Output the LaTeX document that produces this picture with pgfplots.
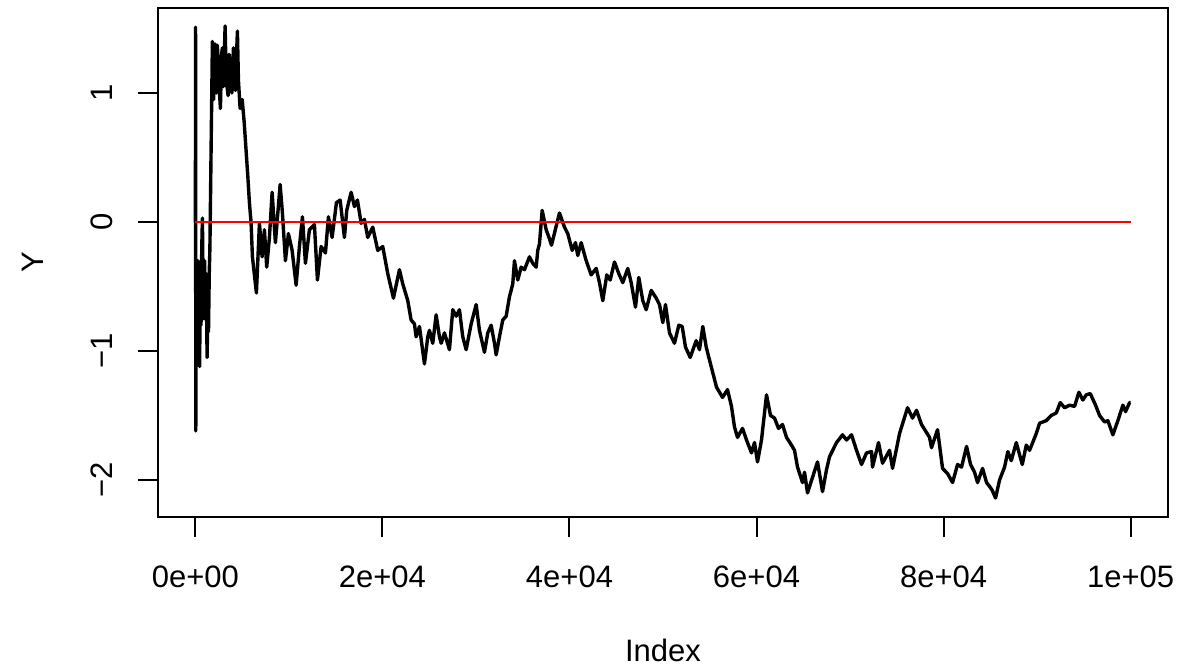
\documentclass[border=0pt]{standalone}
\usepackage{pgfplots}
\pgfplotsset{compat=1.18}
\usepackage{fontspec}
\setmainfont{Liberation Sans}
\begin{document}
\fontsize{15.5bp}{18bp}\selectfont
\begin{tikzpicture}
\path[use as bounding box] (-79bp,-75bp) rectangle (510.5bp,258.5bp);
\begin{axis}[
  at={(0,0)}, anchor=south west,
  scale only axis, width=505bp, height=254.5bp,
  xmin=-4000, xmax=104000, ymin=-2.287, ymax=1.659,
  axis line style={line width=1bp},
  every tick/.style={black, line width=1bp},
  tick align=outside, major tick length=10bp,
  scaled x ticks=false, scaled y ticks=false,
  xtick={0,20000,40000,60000,80000,100000},
  xticklabels={0e+00,2e+04,4e+04,6e+04,8e+04,1e+05},
  ytick={-2,-1,0,1},
  yticklabels={−2,−1,0,1},
  xtick pos=bottom, ytick pos=left,
  /pgf/number format/assume math mode=true,
  xticklabel style={anchor=center, yshift=-20bp},
  yticklabel style={xshift=-18bp, anchor=center, rotate=90},
  xlabel={Index}, ylabel={Y},
  xlabel style={at={(axis description cs:0.5,-0.2613)}, anchor=center},
  ylabel style={at={(axis description cs:-0.1238,0.5)}, anchor=center},
  clip=false,
]
\addplot[black, line width=1.7bp, line join=round] table {
x y
0 0
15 1.51
40 -1.62
100 -0.5
180 -1.0
260 -0.3
340 -0.9
450 -1.12
520 -0.5
600 -0.8
680 -0.2
750 0.03
820 -0.5
900 -0.75
980 -0.3
1060 -0.6
1150 -0.4
1250 -1.05
1330 -0.7
1400 -0.85
1480 -0.4
1550 -0.2
1650 0.4
1818 1.40
1950 0.95
2100 1.38
2250 1.00
2353 1.37
2500 1.10
2674 0.88
2800 1.30
2888 1.35
3000 1.05
3176 1.52
3300 1.10
3497 0.98
3600 1.30
3743 1.19
3900 1.00
4064 1.35
4150 1.15
4278 1.02
4400 1.30
4492 1.48
4600 1.10
4781 0.88
5000 0.95
5209 0.78
5348 0.63
5600 0.36
5775 0.15
5957 -0.01
6096 -0.27
6524 -0.55
6845 -0.01
7134 -0.27
7380 -0.06
7626 -0.35
7914 -0.12
8203 0.23
8556 -0.16
9059 0.29
9305 0.07
9626 -0.30
9946 -0.09
10342 -0.22
10770 -0.49
11123 -0.19
11444 0.04
11765 -0.32
12192 -0.06
12727 -0.02
13048 -0.45
13444 -0.19
13904 -0.24
14224 0.04
14620 -0.12
15080 0.15
15476 0.17
15936 -0.12
16182 0.09
16652 0.23
17005 0.12
17326 0.17
17722 -0.01
18075 0.02
18428 -0.12
18963 -0.04
19497 -0.22
20032 -0.19
20567 -0.40
21176 -0.59
21818 -0.37
22174 -0.48
22709 -0.61
23066 -0.76
23422 -0.79
23600 -0.89
23957 -0.81
24492 -1.10
24848 -0.89
25026 -0.84
25379 -0.94
25743 -0.72
26096 -0.89
26278 -0.94
26631 -0.86
27165 -0.99
27518 -0.68
27882 -0.73
28235 -0.68
28588 -0.89
28951 -0.99
29486 -0.79
30021 -0.64
30374 -0.84
30909 -1.01
31262 -0.86
31625 -0.80
31978 -0.94
32160 -1.03
32513 -0.89
32866 -0.76
33230 -0.73
33582 -0.58
33935 -0.48
34117 -0.30
34470 -0.45
34833 -0.35
35186 -0.37
35721 -0.27
36074 -0.32
36438 -0.35
36609 -0.22
36791 -0.17
37080 0.09
37507 -0.06
37861 -0.13
38074 -0.18
38930 0.07
39465 -0.04
39818 -0.09
40288 -0.22
40641 -0.16
40887 -0.26
41251 -0.16
41786 -0.30
42321 -0.41
42855 -0.36
43208 -0.47
43561 -0.61
43989 -0.41
44353 -0.45
44812 -0.31
45272 -0.40
45700 -0.47
46235 -0.36
46598 -0.47
47058 -0.66
47411 -0.43
47839 -0.61
48203 -0.68
48737 -0.53
49272 -0.59
49625 -0.64
49978 -0.78
50267 -0.64
50694 -0.86
51229 -0.94
51689 -0.80
52052 -0.81
52406 -0.97
52908 -1.05
53550 -0.92
53903 -0.99
54256 -0.81
54620 -0.97
54973 -1.07
55721 -1.28
56042 -1.32
56363 -1.36
56897 -1.30
57325 -1.43
57646 -1.59
57967 -1.67
58502 -1.60
58930 -1.69
59464 -1.79
59785 -1.71
60106 -1.86
60534 -1.69
61068 -1.34
61496 -1.50
61924 -1.52
62352 -1.60
62780 -1.57
63207 -1.67
63742 -1.73
64063 -1.77
64384 -1.90
64919 -2.02
65133 -1.94
65453 -2.10
65988 -1.98
66523 -1.86
67058 -2.09
67485 -1.92
67806 -1.82
68555 -1.71
69197 -1.65
69625 -1.69
70159 -1.65
70694 -1.77
71229 -1.88
71764 -1.79
72298 -1.78
72405 -1.90
73047 -1.71
73475 -1.87
74223 -1.77
74544 -1.91
75293 -1.64
76148 -1.44
76683 -1.52
77111 -1.46
77646 -1.57
78502 -1.67
78715 -1.75
79357 -1.61
79892 -1.91
80427 -1.95
80962 -2.02
81496 -1.88
81924 -1.90
82459 -1.74
82887 -1.88
83315 -1.94
83635 -2.02
84170 -1.91
84598 -2.02
84918 -2.05
85207 -2.08
85560 -2.14
85988 -2.00
86523 -1.90
86876 -1.78
87239 -1.85
87774 -1.71
88416 -1.88
88844 -1.73
89197 -1.77
89914 -1.64
90266 -1.56
90982 -1.54
91517 -1.50
92052 -1.48
92479 -1.40
92940 -1.44
93474 -1.42
94009 -1.43
94469 -1.32
94897 -1.38
95260 -1.34
95688 -1.33
96255 -1.42
96683 -1.50
97218 -1.55
97571 -1.54
98105 -1.65
98640 -1.54
99175 -1.42
99463 -1.47
99891 -1.40
100000 -1.40
};
\addplot[red, line width=1bp] coordinates {(0,0) (100000,0)};
\end{axis}
\end{tikzpicture}
\end{document}
